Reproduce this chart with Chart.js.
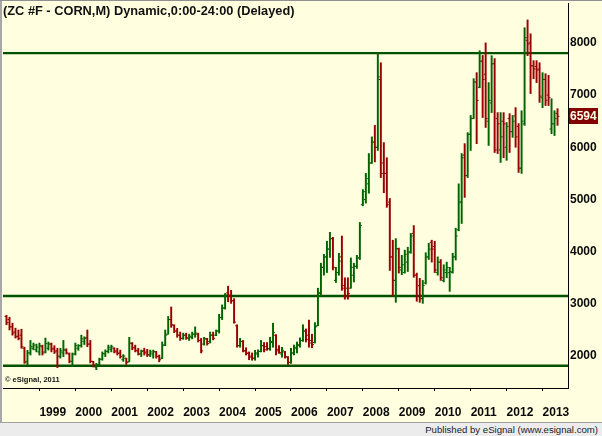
<!DOCTYPE html>
<html><head><meta charset="utf-8">
<script src="https://cdn.jsdelivr.net/npm/chart.js@4.4.0/dist/chart.umd.min.js"></script>
<style>
html,body{margin:0;padding:0;background:#FFFFE0;}
#wrap{position:relative;width:602px;height:436px;overflow:hidden;background:#FFFFE0;}
#c{position:absolute;left:0;top:0;}
#title{position:absolute;left:3px;top:4px;font:bold 12.8px "Liberation Sans",Arial,sans-serif;color:#111;white-space:nowrap;line-height:14px;}
#copy{position:absolute;left:5px;top:375px;font:bold 7.5px "Liberation Sans",Arial,sans-serif;color:#111;white-space:nowrap;line-height:10px;}
#foot{position:absolute;left:0;top:422px;width:602px;height:14px;background:#ECECEC;border-top:1px solid #A0A0A0;box-sizing:border-box;}
#foot span{position:absolute;right:4px;top:0;font:9.6px "Liberation Sans",Arial,sans-serif;color:#1a1a2a;line-height:13px;white-space:nowrap;}
#bl{position:absolute;left:0;top:0;width:2px;height:422px;background:#A8A8A8;}
#bt{position:absolute;left:0;top:0;width:602px;height:1px;background:#909090;}
</style>
</head><body>
<div id="wrap">
<canvas id="c" width="602" height="436"></canvas>
<div id="bl"></div><div id="bt"></div>
<div id="title">(ZC #F - CORN,M) Dynamic,0:00-24:00 (Delayed)</div>
<div id="copy">© eSignal, 2011</div>
<div id="foot"><span>Published by eSignal (www.esignal.com)</span></div>
</div>
<script>
// Monthly bars, first bar = Feb 1998
const startYear = 1998, startMonth = 2;
const opens = [2760,2700,2560,2460,2380,2400,2150,1900,2060,2150,2120,
2080,2180,2080,2150,2230,2150,2100,1990,2060,2110,2040,1900,
2040,2150,2200,2280,2350,2230,1900,1790,1840,1940,2040,2090,
2130,2150,2100,2060,1930,1960,1890,2240,2160,2100,2040,2100,
2080,2020,2040,2080,2000,1960,2210,2420,2700,2590,2480,2400,
2340,2400,2340,2360,2420,2420,2300,2230,2330,2280,2400,2400,
2480,2740,2920,3210,3170,3060,2580,2200,2280,2100,2060,2000,
1960,2040,2090,2200,2180,2140,2260,2400,2130,2040,2080,1980,
1880,2060,2150,2200,2300,2480,2400,2300,2260,2580,3200,3700,
3900,4050,4250,3450,3600,3900,3350,3300,3300,3550,3720,3880,
4900,5000,5300,5700,6100,6000,7300,5700,5500,4950,3900,3450,
4050,3650,3600,3800,4000,4350,3550,3350,3100,3400,3900,4180,
4100,3600,3800,3450,3600,3600,3600,3900,4420,4950,5850,5460,
6250,6550,7250,7150,7650,7400,6500,6850,7600,6550,5950,6500,
6000,6550,6300,6600,6400,5600,6450,8050,8000,7560,7550,7500,
6950,7300,7000,6350,6450,6650];
const highs = [2780,2745,2630,2535,2500,2515,2170,2110,2300,2250,2230,
2250,2210,2345,2270,2250,2200,2150,2150,2300,2140,2060,2060,
2250,2220,2400,2370,2500,2300,1900,1860,1960,2080,2120,2210,
2210,2160,2150,2115,2030,1960,2360,2260,2210,2150,2115,2150,
2130,2115,2115,2090,2020,2270,2500,2760,2940,2600,2530,2460,
2440,2440,2420,2460,2560,2440,2340,2360,2340,2460,2460,2500,
2800,2980,3200,3340,3260,3100,2600,2340,2300,2160,2080,2060,
2110,2120,2300,2260,2260,2360,2630,2410,2200,2170,2090,1990,
2150,2210,2270,2350,2600,2520,2690,2420,2640,3300,3780,3950,
4200,4370,4275,3700,3970,4300,3500,3500,3880,3780,3930,4560,
5190,5500,5880,6200,6420,7790,7620,6090,5800,5020,4220,4250,
4070,3930,4030,4085,4350,4500,3590,3490,3450,3980,4160,4220,
4200,3900,3850,3750,3800,3700,3970,4450,5300,5880,6070,6280,
6610,7315,7430,7850,7760,8000,7240,7755,7700,6665,6665,6665,
6475,6645,6610,6760,6455,6700,8290,8440,8175,7660,7660,7620,
7430,7410,7380,6930,6700,6740];
const lows = [2600,2500,2400,2345,2310,2150,1860,1830,2020,2120,2080,
2020,2020,2060,2115,2080,2050,1780,1960,1990,2040,1870,1800,
2020,2110,2170,2220,2180,1870,1790,1740,1830,1920,1990,2060,
2080,2060,2020,1960,1900,1840,1890,2120,2080,2020,1990,2020,
1990,1990,1960,1960,1890,1950,2200,2420,2550,2450,2360,2300,
2320,2320,2300,2330,2360,2270,2060,2210,2210,2250,2310,2390,
2440,2700,2900,3040,3010,2630,2170,2170,2080,2020,1930,1920,
1920,1980,2080,2080,2110,2110,2170,2020,2050,1980,1960,1840,
1860,2020,2060,2170,2280,2270,2170,2160,2250,2580,3150,3550,
3600,3890,3650,3410,3550,3260,3090,3090,3300,3420,3680,3850,
4880,4930,5120,5690,5720,5940,5420,5130,4850,3640,3150,3030,
3590,3560,3590,3620,3970,3510,3050,3030,3010,3380,3850,3800,
3600,3550,3450,3420,3500,3240,3590,3840,4400,4540,5040,5420,
5940,6550,6070,7140,6570,6380,6035,6665,5900,5880,5710,5800,
5750,5900,6190,6000,5518,5500,6420,7755,7030,7315,7240,6860,
6760,6800,6800,6260,6225,6420];
const closes = [2640,2560,2440,2370,2340,2180,1880,2060,2180,2210,2170,
2200,2060,2240,2230,2130,2080,2000,2100,2130,2060,1900,2040,
2200,2200,2330,2340,2230,1900,1830,1830,1940,2050,2090,2170,
2180,2080,2050,1990,2000,1880,2250,2160,2110,2040,2090,2060,
2030,2080,2090,1990,1930,2210,2400,2700,2600,2480,2400,2340,
2400,2350,2380,2420,2440,2300,2100,2330,2240,2400,2340,2480,
2740,2920,3170,3160,3060,2650,2200,2280,2100,2050,1980,1960,
2060,2090,2200,2120,2140,2280,2450,2100,2070,2110,1990,1880,
2060,2170,2220,2300,2480,2320,2250,2220,2560,3220,3700,3900,
4050,4250,3700,3600,3820,3300,3150,3200,3700,3720,3880,4500,
5150,5400,5700,6100,6000,7350,5500,5500,4900,3900,3450,4060,
3700,3750,3950,3980,4300,3550,3150,3100,3350,3900,4050,4050,
3650,3800,3500,3650,3700,3620,3900,4300,4950,5800,5460,6250,
6550,7250,6900,7650,7300,6550,6900,7600,5950,6450,6200,6450,
6400,6300,6500,6200,5600,6500,8100,7980,7560,7500,7480,6980,
7300,6900,6950,6450,6550,6594];

const yearLabels = ['1999','2000','2001','2002','2003','2004','2005','2006','2007','2008','2009','2010','2011','2012','2013'];
const priceTicks = [2000,3000,4000,5000,6000,7000,8000];
const levels = [7805, 3150, 1815];

const GREEN = '#006400', RED = '#990000', LEVEL = '#005200';
const idx = opens.map((_, i) => i);
const colorAt = i => (closes[i] >= opens[i] ? GREEN : RED);
const yearIndex = y => (Number(y) - startYear) * 12 - (startMonth - 1);
const FONT = 'Liberation Sans';

const overlay = {
  id: 'overlay',
  beforeDatasetsDraw(chart) {
    const {ctx, chartArea: a, scales: {y}} = chart;
    ctx.save();
    ctx.strokeStyle = LEVEL; ctx.lineWidth = 2.4;
    levels.forEach(v => {
      const py = y.getPixelForValue(v);
      ctx.beginPath(); ctx.moveTo(a.left, py); ctx.lineTo(a.right, py); ctx.stroke();
    });
    ctx.restore();
  },
  afterDraw(chart) {
    const {ctx, chartArea: a, scales: {y}} = chart;
    const last = closes[closes.length - 1];
    const py = y.getPixelForValue(last);
    ctx.save();
    ctx.fillStyle = '#800000';
    ctx.fillRect(a.right + 1, Math.round(py) - 8, 29, 16);
    ctx.fillStyle = '#FFFFE8';
    ctx.font = 'bold 12px "' + FONT + '"';
    ctx.textBaseline = 'middle';
    ctx.fillText(String(last), a.right + 2, Math.round(py) + 0.5);
    ctx.restore();
  }
};

new Chart(document.getElementById('c').getContext('2d'), {
  type: 'bar',
  data: {
    datasets: [
      {
        type: 'bar',
        data: idx.map(i => ({x: i, y: [lows[i], highs[i]]})),
        backgroundColor: idx.map(colorAt),
        barThickness: 1.3,
        borderWidth: 0,
        order: 3
      },
      {
        type: 'line',
        data: idx.map(i => ({x: i, y: opens[i]})),
        showLine: false,
        pointStyle: 'dash',
        pointRadius: 2,
        pointHoverRadius: 2,
        pointRotation: 180,
        pointBorderWidth: 1,
        pointBorderColor: idx.map(colorAt),
        pointBackgroundColor: idx.map(colorAt),
        order: 1
      },
      {
        type: 'line',
        data: idx.map(i => ({x: i, y: closes[i]})),
        showLine: false,
        pointStyle: 'dash',
        pointRadius: 2,
        pointHoverRadius: 2,
        pointRotation: 0,
        pointBorderWidth: 1,
        pointBorderColor: idx.map(colorAt),
        pointBackgroundColor: idx.map(colorAt),
        order: 1
      }
    ]
  },
  options: {
    responsive: false,
    animation: false,
    devicePixelRatio: 1,
    events: [],
    layout: {padding: {left: 2, top: 2, right: 0, bottom: 14}},
    plugins: {legend: {display: false}, tooltip: {enabled: false}},
    scales: {
      x: {
        type: 'linear',
        min: -1.1667,
        max: 187.5,
        offset: false,
        grid: {offset: false, drawOnChartArea: false, drawTicks: true, tickLength: 3, color: '#000'},
        border: {color: '#000', width: 1},
        afterBuildTicks: s => { s.ticks = yearLabels.map(y => ({value: yearIndex(y)})); },
        ticks: {
          autoSkip: false, maxRotation: 0, minRotation: 0, align: 'start', padding: 14,
          color: '#0a0a0a', font: {family: FONT, weight: 'bold', size: 12},
          callback: v => yearLabels.find(y => yearIndex(y) === v) || ''
        },
        afterFit: s => { s.height = 34; s.paddingLeft = 0; s.paddingRight = 0; }
      },
      y: {
        position: 'right',
        beginAtZero: false,
        min: 1388.5,
        max: 8764.5,
        grid: {drawOnChartArea: false, drawTicks: false, color: '#000'},
        border: {color: '#000', width: 1},
        afterBuildTicks: s => { s.ticks = priceTicks.map(v => ({value: v})); },
        ticks: {
          padding: 2, color: '#0a0a0a', font: {family: FONT, weight: 'bold', size: 12},
          callback: v => String(v)
        },
        afterFit: s => { s.width = 34; s.paddingTop = 0; s.paddingBottom = 0; }
      }
    }
  },
  plugins: [overlay]
});
</script>
</body></html>
